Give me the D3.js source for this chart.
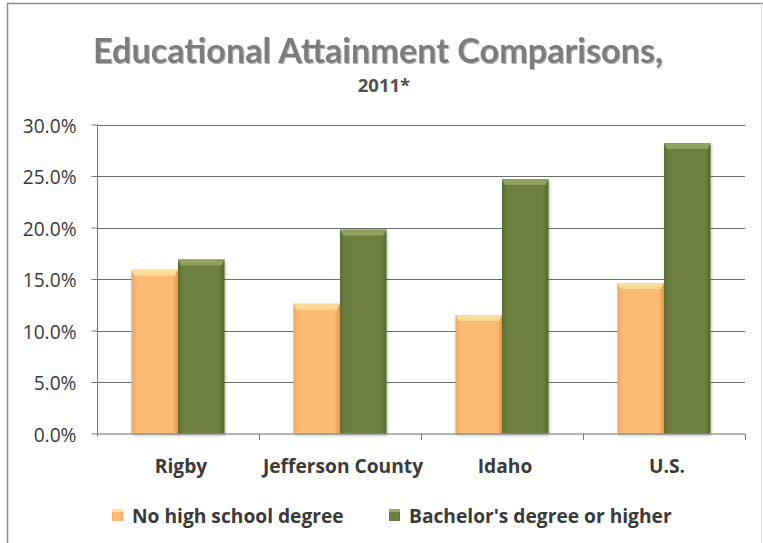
<!DOCTYPE html>
<html>
<head>
<meta charset="utf-8">
<script src="https://cdn.jsdelivr.net/npm/d3@7/dist/d3.min.js"></script>
<style>
  html, body { margin: 0; padding: 0; background: #fff; }
  svg { display: block; }
</style>
</head>
<body>
<svg id="chart" width="763" height="543"></svg>
<script>
// Educational attainment, share of adults 25+ (percent)
const categories = ["Rigby", "Jefferson County", "Idaho", "U.S."];
const noHighSchool = [15.9, 12.6, 11.5, 14.6];
const bachelors = [16.9, 19.8, 24.7, 28.2];
const seriesNames = ["No high school degree", "Bachelor's degree or higher"];
const yTicks = [0, 5, 10, 15, 20, 25, 30];
const titleText = "Educational Attainment Comparisons,";
const subtitleText = "2011*";

const TITLE_FONT = "Lato, 'Open Sans', sans-serif";
const FONT = "'Open Sans', Lato, sans-serif";
const LABEL_SIZE = 19.2;
const svg = d3.select("#chart");
const defs = svg.append("defs");

// frame around the chart area
svg.append("path")
  .attr("d", "M7.5,543 L7.5,3.5 L763,3.5")
  .attr("fill", "none").attr("stroke", "#8a8a8a").attr("stroke-width", 1.5);
svg.append("line").attr("x1", 761.5).attr("x2", 761.5).attr("y1", 3).attr("y2", 543)
  .attr("stroke", "#e2e2e2").attr("stroke-width", 1);

// bar fills: horizontal shading + lighter bevel on top
const palettes = [
  { id: "gOrange", edge: "#f0a65a", mid: "#fdba73", light: "#fde2a0", shadow: "#e39a50" },
  { id: "gGreen", edge: "#5c6e32", mid: "#6d8040", light: "#97a866", shadow: "#55672d" }
];
palettes.forEach(p => {
  const g = defs.append("linearGradient").attr("id", p.id).attr("x1", 0).attr("x2", 1).attr("y1", 0).attr("y2", 0);
  g.append("stop").attr("offset", "0%").attr("stop-color", p.edge);
  g.append("stop").attr("offset", "12%").attr("stop-color", p.mid);
  g.append("stop").attr("offset", "88%").attr("stop-color", p.mid);
  g.append("stop").attr("offset", "100%").attr("stop-color", p.shadow);
});
const shadow = defs.append("filter").attr("id", "barShadow")
  .attr("x", "-20%").attr("y", "-5%").attr("width", "140%").attr("height", "115%");
shadow.append("feDropShadow").attr("dx", 1).attr("dy", 2).attr("stdDeviation", 1.5)
  .attr("flood-color", "#000").attr("flood-opacity", 0.25);
const txtShadow = defs.append("filter").attr("id", "txtShadow");
txtShadow.append("feDropShadow").attr("dx", 1).attr("dy", 1).attr("stdDeviation", 0.6)
  .attr("flood-color", "#000").attr("flood-opacity", 0.3);

// scales
const x = d3.scaleBand().domain(categories).range([97, 745]).paddingInner(0).paddingOuter(0);
const xs = d3.scaleBand().domain([0, 1]).range([0, x.bandwidth()]).paddingInner(0).paddingOuter(0.74);
const y = d3.scaleLinear().domain([0, 30]).range([433.5, 124.5]);

// title
svg.append("text")
  .attr("x", 378).attr("y", 63)
  .attr("text-anchor", "middle")
  .attr("font-family", TITLE_FONT).attr("font-weight", "bold").attr("font-size", 34)
  .attr("fill", "#7b7b7b")
  .attr("textLength", 570).attr("lengthAdjust", "spacingAndGlyphs")
  .attr("filter", "url(#txtShadow)")
  .text(titleText);
svg.append("text")
  .attr("x", 384).attr("y", 92)
  .attr("text-anchor", "middle")
  .attr("font-family", FONT).attr("font-weight", "bold").attr("font-size", 18.5)
  .attr("fill", "#505050")
  .text(subtitleText);

// gridlines
svg.append("g").selectAll("line").data(yTicks.filter(d => d > 0)).join("line")
  .attr("x1", 97).attr("x2", 745)
  .attr("y1", d => Math.round(y(d)) + 0.5).attr("y2", d => Math.round(y(d)) + 0.5)
  .attr("stroke", "#6e6e6e").attr("stroke-width", 1);

// y axis
const yAxis = svg.append("g")
  .attr("transform", "translate(97.5,0)")
  .call(d3.axisLeft(y).tickValues(yTicks).tickFormat(d => d.toFixed(1) + "%").tickSize(6).tickPadding(15));
yAxis.select(".domain").attr("stroke", "#777").attr("d", `M0,${y(30)}V${y(0) + 3}`);
yAxis.selectAll(".tick line").attr("stroke", "#777");
yAxis.selectAll(".tick text")
  .attr("font-family", FONT).attr("font-size", LABEL_SIZE).attr("fill", "#3a3a3a").attr("dy", "0.4em");

// bars
const seriesValues = [noHighSchool, bachelors];
const bevel = 6;
seriesValues.forEach((vals, si) => {
  const p = palettes[si];
  const g = svg.append("g").attr("class", "series-" + si);
  const bars = g.selectAll("g").data(categories.map((c, i) => ({ c, v: vals[i] }))).join("g")
    .attr("filter", "url(#barShadow)");
  bars.append("rect")
    .attr("x", d => x(d.c) + xs(si))
    .attr("y", d => y(d.v))
    .attr("width", xs.bandwidth())
    .attr("height", d => y(0) - y(d.v))
    .attr("fill", `url(#${p.id})`);
  bars.append("path")
    .attr("d", d => {
      const x0 = x(d.c) + xs(si), x1 = x0 + xs.bandwidth(), t = y(d.v);
      return `M${x0},${t}L${x1},${t}L${x1 - 3},${t + bevel}L${x0 + 3},${t + bevel}Z`;
    })
    .attr("fill", p.light).attr("opacity", 0.85);
});

// x axis baseline and category ticks at band boundaries
svg.append("line").attr("x1", 97).attr("x2", 745).attr("y1", 434).attr("y2", 434)
  .attr("stroke", "#6e6e6e");
const bounds = categories.map(c => x(c)).concat([x.range()[1]]);
svg.append("g").selectAll("line").data(bounds.slice(1)).join("line")
  .attr("x1", d => d + 0.5).attr("x2", d => d + 0.5).attr("y1", 434).attr("y2", 440)
  .attr("stroke", "#777");

// category labels
svg.append("g").selectAll("text").data(categories).join("text")
  .attr("x", d => x(d) + x.bandwidth() / 2 + 3)
  .attr("y", 473)
  .attr("text-anchor", "middle")
  .attr("font-family", FONT).attr("font-weight", "bold").attr("font-size", LABEL_SIZE)
  .attr("fill", "#3a3a3a")
  .text(d => d);

// legend
const legendItems = [
  { name: seriesNames[0], p: palettes[0], x: 112 },
  { name: seriesNames[1], p: palettes[1], x: 389 }
];
const lg = svg.append("g").selectAll("g").data(legendItems).join("g")
  .attr("transform", d => `translate(${d.x},509)`);
lg.append("rect").attr("width", 11).attr("height", 12)
  .attr("fill", d => `url(#${d.p.id})`);
lg.append("rect").attr("width", 11).attr("height", 3).attr("fill", d => d.p.light);
lg.append("text")
  .attr("x", 20).attr("y", 14)
  .attr("font-family", FONT).attr("font-weight", "bold").attr("font-size", LABEL_SIZE)
  .attr("fill", "#3a3a3a")
  .text(d => d.name);
</script>
</body>
</html>
